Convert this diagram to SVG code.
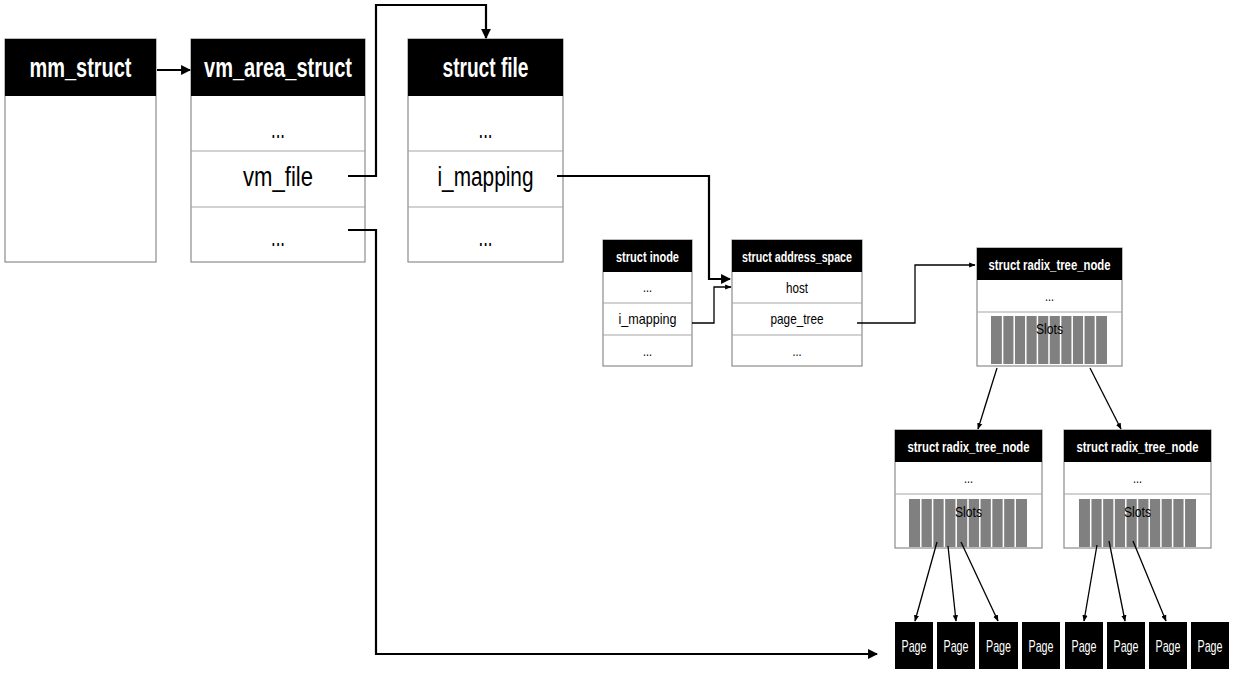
<svg xmlns="http://www.w3.org/2000/svg" width="1233" height="677" viewBox="0 0 1233 677">
<style>
.box{fill:#fff;stroke:#8c8c8c;stroke-width:1.2}
.sep{stroke:#a6a6a6;stroke-width:1.2}
.hdr{fill:#000}
.ht{fill:#fff;font-family:"Liberation Sans","DejaVu Sans Condensed",sans-serif;font-weight:bold;text-anchor:middle}
.t{fill:#000;font-family:"Liberation Sans","DejaVu Sans Condensed",sans-serif;text-anchor:middle}
.big{font-size:27px}
.sm{font-size:15px}
.slot{fill:#808080}
.sl{stroke:#fff;stroke-width:1.5}
.pg{fill:#000}
.pt{fill:#fff;font-family:"Liberation Sans","DejaVu Sans Condensed",sans-serif;font-size:17px;text-anchor:middle}
.c{fill:none;stroke:#000;stroke-width:2.2}
.cs{fill:none;stroke:#000;stroke-width:1.3}
</style>
<defs>
<marker id="ah" viewBox="0 0 10 10" refX="9" refY="5" markerWidth="4.5" markerHeight="4.5" orient="auto" markerUnits="strokeWidth"><path d="M0,0 L10,5 L0,10 z" fill="#000"/></marker>
<marker id="ahs" viewBox="0 0 10 10" refX="9" refY="5" markerWidth="5" markerHeight="5" orient="auto" markerUnits="strokeWidth"><path d="M0,1 L10,5 L0,9 z" fill="#000"/></marker>
</defs>

<g id="mm_struct">
<rect class="box" x="5" y="39" width="151" height="223"/>
<rect class="hdr" x="5" y="39" width="151" height="57"/>
<text class="ht big" x="80.5" y="77" textLength="102" lengthAdjust="spacingAndGlyphs">mm_struct</text>
</g>

<g id="vm_area_struct">
<rect class="box" x="191" y="39" width="174" height="223"/>
<rect class="hdr" x="191" y="39" width="174" height="57"/>
<text class="ht big" x="278" y="77" textLength="148" lengthAdjust="spacingAndGlyphs">vm_area_struct</text>
<line class="sep" x1="191" y1="151" x2="365" y2="151"/>
<line class="sep" x1="191" y1="207" x2="365" y2="207"/>
<text class="t big" x="278" y="138" textLength="14" lengthAdjust="spacingAndGlyphs">...</text>
<text class="t big" x="278" y="186" textLength="70" lengthAdjust="spacingAndGlyphs">vm_file</text>
<text class="t big" x="278" y="246" textLength="14" lengthAdjust="spacingAndGlyphs">...</text>
</g>

<g id="struct_file">
<rect class="box" x="408" y="39" width="155" height="223"/>
<rect class="hdr" x="408" y="39" width="155" height="57"/>
<text class="ht big" x="485.5" y="77" textLength="86" lengthAdjust="spacingAndGlyphs">struct file</text>
<line class="sep" x1="408" y1="151" x2="563" y2="151"/>
<line class="sep" x1="408" y1="207" x2="563" y2="207"/>
<text class="t big" x="485.5" y="138" textLength="14" lengthAdjust="spacingAndGlyphs">...</text>
<text class="t big" x="485.5" y="186" textLength="96" lengthAdjust="spacingAndGlyphs">i_mapping</text>
<text class="t big" x="485.5" y="246" textLength="14" lengthAdjust="spacingAndGlyphs">...</text>
</g>

<g id="struct_inode">
<rect class="box" x="603" y="240" width="89" height="126"/>
<rect class="hdr" x="603" y="240" width="89" height="32"/>
<text class="ht sm" x="647.5" y="262" textLength="63" lengthAdjust="spacingAndGlyphs">struct inode</text>
<line class="sep" x1="603" y1="303" x2="692" y2="303"/>
<line class="sep" x1="603" y1="335" x2="692" y2="335"/>
<text class="t sm" x="647.5" y="292" textLength="9" lengthAdjust="spacingAndGlyphs">...</text>
<text class="t sm" x="647.5" y="324" textLength="58" lengthAdjust="spacingAndGlyphs">i_mapping</text>
<text class="t sm" x="647.5" y="356" textLength="9" lengthAdjust="spacingAndGlyphs">...</text>
</g>

<g id="struct_address_space">
<rect class="box" x="732" y="240" width="130" height="126"/>
<rect class="hdr" x="732" y="240" width="130" height="32"/>
<text class="ht sm" x="797" y="262" textLength="110" lengthAdjust="spacingAndGlyphs">struct address_space</text>
<line class="sep" x1="732" y1="303" x2="862" y2="303"/>
<line class="sep" x1="732" y1="335" x2="862" y2="335"/>
<text class="t sm" x="797" y="293" textLength="22" lengthAdjust="spacingAndGlyphs">host</text>
<text class="t sm" x="797" y="324" textLength="53" lengthAdjust="spacingAndGlyphs">page_tree</text>
<text class="t sm" x="797" y="356" textLength="9" lengthAdjust="spacingAndGlyphs">...</text>
</g>

<g id="radix_root">
<rect class="box" x="977" y="248" width="145" height="118"/>
<rect class="hdr" x="977" y="248" width="145" height="32"/>
<text class="ht sm" x="1049.5" y="270" textLength="122" lengthAdjust="spacingAndGlyphs">struct radix_tree_node</text>
<line class="sep" x1="977" y1="312" x2="1122" y2="312"/>
<text class="t sm" x="1049.5" y="301" textLength="9" lengthAdjust="spacingAndGlyphs">...</text>
<rect class="slot" x="991" y="316" width="116" height="48"/>
<g class="sl"><line x1="1002.6" y1="316" x2="1002.6" y2="364"/><line x1="1014.2" y1="316" x2="1014.2" y2="364"/><line x1="1025.8" y1="316" x2="1025.8" y2="364"/><line x1="1037.4" y1="316" x2="1037.4" y2="364"/><line x1="1049" y1="316" x2="1049" y2="364"/><line x1="1060.6" y1="316" x2="1060.6" y2="364"/><line x1="1072.2" y1="316" x2="1072.2" y2="364"/><line x1="1083.8" y1="316" x2="1083.8" y2="364"/><line x1="1095.4" y1="316" x2="1095.4" y2="364"/></g>
<text class="t sm" x="1049.5" y="334" textLength="27" lengthAdjust="spacingAndGlyphs">Slots</text>
</g>

<g id="radix_left">
<rect class="box" x="895" y="430" width="147" height="118"/>
<rect class="hdr" x="895" y="430" width="147" height="32"/>
<text class="ht sm" x="968.5" y="452" textLength="122" lengthAdjust="spacingAndGlyphs">struct radix_tree_node</text>
<line class="sep" x1="895" y1="494" x2="1042" y2="494"/>
<text class="t sm" x="968.5" y="483" textLength="9" lengthAdjust="spacingAndGlyphs">...</text>
<rect class="slot" x="909" y="499" width="118" height="48"/>
<g class="sl"><line x1="920.8" y1="499" x2="920.8" y2="547"/><line x1="932.6" y1="499" x2="932.6" y2="547"/><line x1="944.4" y1="499" x2="944.4" y2="547"/><line x1="956.2" y1="499" x2="956.2" y2="547"/><line x1="968" y1="499" x2="968" y2="547"/><line x1="979.8" y1="499" x2="979.8" y2="547"/><line x1="991.6" y1="499" x2="991.6" y2="547"/><line x1="1003.4" y1="499" x2="1003.4" y2="547"/><line x1="1015.2" y1="499" x2="1015.2" y2="547"/></g>
<text class="t sm" x="968.5" y="517" textLength="27" lengthAdjust="spacingAndGlyphs">Slots</text>
</g>

<g id="radix_right">
<rect class="box" x="1064" y="430" width="147" height="118"/>
<rect class="hdr" x="1064" y="430" width="147" height="32"/>
<text class="ht sm" x="1137.5" y="452" textLength="122" lengthAdjust="spacingAndGlyphs">struct radix_tree_node</text>
<line class="sep" x1="1064" y1="494" x2="1211" y2="494"/>
<text class="t sm" x="1137.5" y="483" textLength="9" lengthAdjust="spacingAndGlyphs">...</text>
<rect class="slot" x="1079" y="499" width="117" height="48"/>
<g class="sl"><line x1="1090.7" y1="499" x2="1090.7" y2="547"/><line x1="1102.4" y1="499" x2="1102.4" y2="547"/><line x1="1114.1" y1="499" x2="1114.1" y2="547"/><line x1="1125.8" y1="499" x2="1125.8" y2="547"/><line x1="1137.5" y1="499" x2="1137.5" y2="547"/><line x1="1149.2" y1="499" x2="1149.2" y2="547"/><line x1="1160.9" y1="499" x2="1160.9" y2="547"/><line x1="1172.6" y1="499" x2="1172.6" y2="547"/><line x1="1184.3" y1="499" x2="1184.3" y2="547"/></g>
<text class="t sm" x="1137.5" y="517" textLength="27" lengthAdjust="spacingAndGlyphs">Slots</text>
</g>

<g id="pages">
<rect class="pg" x="895" y="622" width="38" height="47"/><text class="pt" x="914" y="652" textLength="25" lengthAdjust="spacingAndGlyphs">Page</text>
<rect class="pg" x="937" y="622" width="38" height="47"/><text class="pt" x="956" y="652" textLength="25" lengthAdjust="spacingAndGlyphs">Page</text>
<rect class="pg" x="979" y="622" width="39" height="47"/><text class="pt" x="998.5" y="652" textLength="25" lengthAdjust="spacingAndGlyphs">Page</text>
<rect class="pg" x="1022" y="622" width="38" height="47"/><text class="pt" x="1041" y="652" textLength="25" lengthAdjust="spacingAndGlyphs">Page</text>
<rect class="pg" x="1065" y="622" width="38" height="47"/><text class="pt" x="1084" y="652" textLength="25" lengthAdjust="spacingAndGlyphs">Page</text>
<rect class="pg" x="1107" y="622" width="38" height="47"/><text class="pt" x="1126" y="652" textLength="25" lengthAdjust="spacingAndGlyphs">Page</text>
<rect class="pg" x="1149" y="622" width="38" height="47"/><text class="pt" x="1168" y="652" textLength="25" lengthAdjust="spacingAndGlyphs">Page</text>
<rect class="pg" x="1191" y="622" width="38" height="47"/><text class="pt" x="1210" y="652" textLength="25" lengthAdjust="spacingAndGlyphs">Page</text>
</g>

<g id="connectors">
<path class="c" d="M157,70 H190" marker-end="url(#ah)"/>
<path class="c" d="M348,176 H376 V5 H486 V38" marker-end="url(#ah)"/>
<path class="c" d="M557,176 H709 V279 H730" marker-end="url(#ah)"/>
<path class="c" d="M348,230 H376 V654 H877" marker-end="url(#ah)"/>
<path class="cs" d="M692,323 H714 V287 H731" marker-end="url(#ahs)"/>
<path class="cs" d="M857,323 H915 V265 H975" marker-end="url(#ahs)"/>
<path class="cs" d="M997,368 L978,429" marker-end="url(#ahs)"/>
<path class="cs" d="M1090,368 L1121,429" marker-end="url(#ahs)"/>
<path class="cs" d="M937,542 L915,621" marker-end="url(#ahs)"/>
<path class="cs" d="M948,546 L956,621" marker-end="url(#ahs)"/>
<path class="cs" d="M961,542 L998,621" marker-end="url(#ahs)"/>
<path class="cs" d="M1097,545 L1084,621" marker-end="url(#ahs)"/>
<path class="cs" d="M1109,541 L1125,621" marker-end="url(#ahs)"/>
<path class="cs" d="M1133,541 L1166,621" marker-end="url(#ahs)"/>
</g>
</svg>
